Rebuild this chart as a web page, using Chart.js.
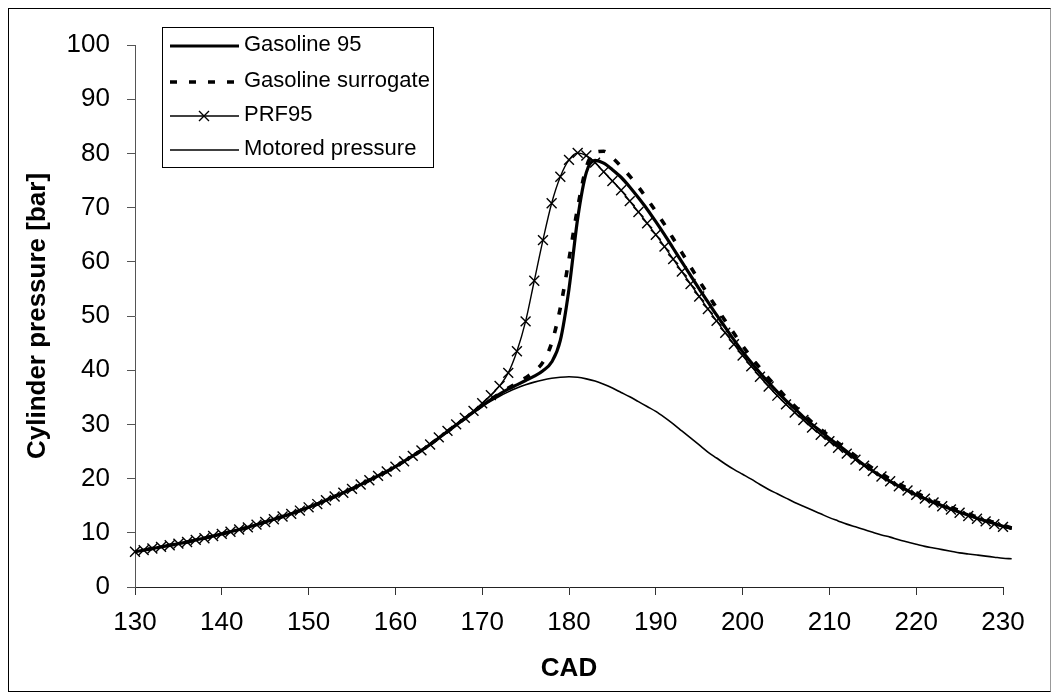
<!DOCTYPE html>
<html>
<head>
<meta charset="utf-8">
<script src="https://cdn.jsdelivr.net/npm/chart.js@4.4.1/dist/chart.umd.min.js"></script>
<style>
  html, body { margin: 0; padding: 0; background: #fff; }
  #wrap { position: relative; width: 1054px; height: 695px; }
  #frame { position: absolute; left: 8px; top: 8px; width: 1043px; height: 684px;
           border: 1px solid #000; border-right-color: #999; box-sizing: border-box; pointer-events: none; }
</style>
</head>
<body>
<div id="wrap"><canvas id="c"></canvas><div id="frame"></div></div>
<script>
/* Cylinder pressure vs crank angle. */

const CAD = [130,131,132,133,134,135,136,137,138,139,140,141,142,143,144,145,146,147,148,149,
  150,151,152,153,154,155,156,157,158,159,160,161,162,163,164,165,166,167,168,169,
  170,171,172,173,174,175,176,177,178,179,180,181,182,183,184,185,186,187,188,189,
  190,191,192,193,194,195,196,197,198,199,200,201,202,203,204,205,206,207,208,209,
  210,211,212,213,214,215,216,217,218,219,220,221,222,223,224,225,226,227,228,229,230,231];

const MOTORED = [6.5,6.8,7.1,7.4,7.7,8.0,8.3,8.7,9.0,9.4,9.8,10.2,10.6,11.0,11.5,12.0,12.5,13.0,13.5,14.1,
  14.7,15.3,16.0,16.7,17.4,18.1,18.9,19.7,20.5,21.3,22.2,23.2,24.2,25.2,26.3,27.4,28.6,29.8,31.0,32.2,
  33.3,34.3,35.2,36.0,36.7,37.3,37.8,38.2,38.5,38.7,38.8,38.7,38.4,38.0,37.4,36.7,35.9,35.1,34.2,33.3,
  32.4,31.3,30.1,28.8,27.5,26.2,24.9,23.8,22.7,21.7,20.8,19.9,18.9,18.0,17.2,16.4,15.6,14.9,14.2,13.5,
  12.8,12.2,11.6,11.1,10.6,10.1,9.6,9.2,8.7,8.3,7.9,7.5,7.2,6.9,6.6,6.3,6.1,5.9,5.7,5.5,5.3,5.2];

const GASOLINE95 = [6.5,6.8,7.1,7.4,7.7,8.0,8.3,8.7,9.0,9.4,9.8,10.2,10.6,11.0,11.5,12.0,12.5,13.0,13.5,14.1,
  14.7,15.3,16.0,16.7,17.4,18.1,18.9,19.7,20.5,21.3,22.2,23.2,24.2,25.2,26.3,27.5,28.7,29.9,31.1,32.3,
  33.5,34.6,35.6,36.5,37.3,38.1,38.9,39.9,41.5,45.5,55.0,68.0,76.5,78.7,78.2,77.0,75.6,73.8,71.8,69.7,
  67.4,65.0,62.5,60.0,57.5,55.0,52.6,50.2,47.9,45.6,43.4,41.4,39.5,37.7,36.0,34.4,32.9,31.4,30.0,28.7,
  27.4,26.2,25.0,23.7,22.5,21.4,20.4,19.5,18.6,17.8,17.0,16.3,15.6,15.0,14.4,13.8,13.3,12.7,12.2,11.7,11.2,10.8];

const SURROGATE = [6.5,6.8,7.1,7.4,7.7,8.0,8.3,8.7,9.0,9.4,9.8,10.2,10.6,11.0,11.5,12.0,12.5,13.0,13.5,14.1,
  14.7,15.3,16.0,16.7,17.4,18.1,18.9,19.7,20.5,21.3,22.2,23.2,24.2,25.2,26.3,27.5,28.7,29.9,31.1,32.3,
  33.5,34.6,35.7,36.7,37.6,38.6,39.8,41.5,45.0,51.5,60.5,70.0,77.5,80.2,80.4,79.2,77.6,75.8,73.8,71.6,
  69.3,66.9,64.3,61.7,59.1,56.5,54.0,51.5,49.1,46.8,44.5,42.4,40.4,38.5,36.7,35.0,33.4,31.9,30.4,29.1,
  27.8,26.6,25.4,24.2,23.0,21.9,20.9,19.9,19.0,18.2,17.4,16.6,15.9,15.3,14.7,14.1,13.5,12.9,12.4,11.9,11.4,10.9];

const PRF95 = [6.5,6.8,7.1,7.4,7.7,8.0,8.3,8.7,9.0,9.4,9.8,10.2,10.6,11.0,11.5,12.0,12.5,13.0,13.5,14.1,
  14.7,15.3,16.0,16.7,17.4,18.1,18.9,19.7,20.5,21.3,22.2,23.2,24.2,25.2,26.3,27.6,28.8,30.0,31.2,32.5,
  33.9,35.4,37.1,39.5,43.5,49.0,56.5,64.0,70.8,75.7,78.8,80.1,79.6,78.3,76.6,74.9,73.2,71.2,69.2,67.1,
  65.0,62.8,60.5,58.2,55.9,53.6,51.3,49.1,46.9,44.8,42.7,40.7,38.8,37.0,35.3,33.7,32.2,30.8,29.4,28.1,
  26.9,25.7,24.6,23.5,22.4,21.4,20.4,19.5,18.6,17.8,17.0,16.3,15.6,14.9,14.3,13.7,13.1,12.6,12.1,11.6,11.1,10.7];

const LABELS = ["Gasoline 95", "Gasoline surrogate", "PRF95", "Motored pressure"];
const X_TITLE = "CAD";
const Y_TITLE = "Cylinder pressure [bar]";

const FONT = "'Liberation Sans', Arial, sans-serif";
const INK = "#000";

// points are handed over last-to-first so Chart.js keeps the 231 point past the axis end
function pts(arr) { return CAD.map((x, i) => ({ x, y: arr[i] })).reverse(); }

const styles = [
  { borderWidth: 3.2, borderDash: [], pointRadius: 0 },
  { borderWidth: 3.6, borderDash: [7, 12], pointRadius: 0 },
  { borderWidth: 1.4, borderDash: [], pointRadius: 7, pointStyle: "crossRot" },
  { borderWidth: 1.6, borderDash: [], pointRadius: 0 },
];
const series = [GASOLINE95, SURROGATE, PRF95, MOTORED];

/* legend box + axis titles drawn straight on the canvas */
const decor = {
  id: "decor",
  afterDraw(chart) {
    const ctx = chart.ctx;
    ctx.save();
    ctx.strokeStyle = INK;
    ctx.lineWidth = 1;
    ctx.strokeRect(162.5, 27.5, 271, 140);
    const rows = [46, 82, 116, 150];
    ctx.font = "22px " + FONT;
    ctx.fillStyle = INK;
    ctx.textBaseline = "middle";
    rows.forEach((y, i) => {
      const s = styles[i];
      ctx.beginPath();
      ctx.setLineDash(s.borderDash);
      ctx.lineWidth = s.borderWidth;
      ctx.moveTo(170, y);
      ctx.lineTo(239, y);
      ctx.stroke();
      ctx.setLineDash([]);
      if (s.pointStyle) {
        ctx.lineWidth = 1.4;
        ctx.beginPath();
        ctx.moveTo(199, y - 5); ctx.lineTo(209, y + 5);
        ctx.moveTo(209, y - 5); ctx.lineTo(199, y + 5);
        ctx.stroke();
      }
      ctx.fillText(LABELS[i], 244, y - 1);
    });
    ctx.font = "bold 26px " + FONT;
    ctx.textAlign = "center";
    ctx.fillText(X_TITLE, 569, 669);
    ctx.translate(38, 316);
    ctx.rotate(-Math.PI / 2);
    ctx.fillText(Y_TITLE, 0, 0);
    ctx.restore();
  },
};

new Chart(document.getElementById("c"), {
  type: "line",
  data: {
    datasets: series.map((arr, i) => ({
      label: LABELS[i],
      data: pts(arr),
      borderColor: INK,
      backgroundColor: INK,
      pointBorderColor: INK,
      pointBorderWidth: 1.4,
      pointHoverRadius: 0,
      cubicInterpolationMode: "monotone",
      fill: false,
      clip: false,
      ...styles[i],
    })),
  },
  options: {
    responsive: true, maintainAspectRatio: false, animation: false, devicePixelRatio: 1,
    layout: { padding: { left: 0, right: 51, top: 45, bottom: 0 } },
    plugins: { legend: { display: false }, tooltip: { enabled: false } },
    scales: {
      x: {
        type: "linear", min: 130, max: 230,
        afterFit: s => { s.height = 108; },
        ticks: { stepSize: 10, color: INK, font: { family: FONT, size: 26 }, padding: 12, maxRotation: 0, autoSkip: false },
        grid: { drawOnChartArea: false, drawTicks: true, tickLength: 8, color: "#333" },
        border: { color: "#222", width: 1 },
      },
      y: {
        min: 0, max: 100,
        afterFit: s => { s.width = 135; },
        ticks: { stepSize: 10, color: INK, font: { family: FONT, size: 26 }, padding: 17 },
        grid: { drawOnChartArea: false, drawTicks: true, tickLength: 8, color: "#555" },
        border: { color: "#555", width: 1 },
      },
    },
  },
  plugins: [decor],
});
</script>
</body>
</html>
